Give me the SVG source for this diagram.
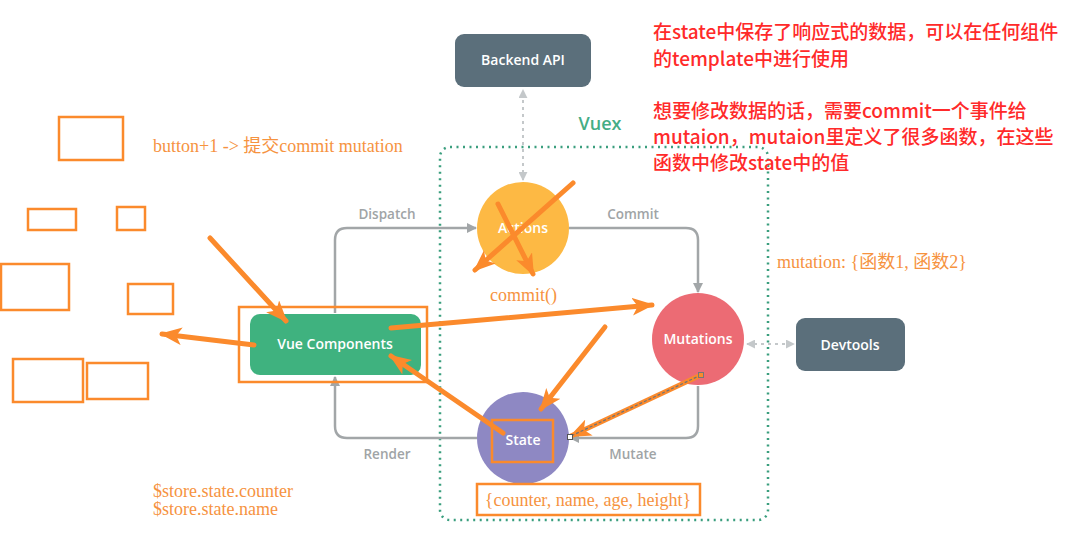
<svg xmlns="http://www.w3.org/2000/svg" width="1069" height="535" viewBox="0 0 1069 535">
<style>
.node-t{font-family:"Open Sans","Liberation Sans",sans-serif;font-weight:600;font-size:14px;fill:#fff;text-anchor:middle}
.lbl{font-family:"Open Sans","Liberation Sans",sans-serif;font-weight:600;font-size:13.5px;fill:#a0a4a6;text-anchor:middle}
.gline{fill:none;stroke:#a2a6a8;stroke-width:2.5}
.gdot{fill:none;stroke:#c4c8ca;stroke-width:2;stroke-dasharray:3 4}
.obox{fill:none;stroke:#fb8a2c;stroke-width:2.5}
.oarr{stroke:#fb8a2c;stroke-width:5;stroke-linecap:round;fill:none}
.otxt{font-family:"Liberation Serif","Noto Sans CJK SC",serif;font-size:18px;fill:#f6933f}
.red{font-family:"Noto Sans CJK SC","Liberation Sans",sans-serif;font-size:19px;font-weight:500;fill:#ff2a2a}
</style>
<defs>
<marker id="ga" viewBox="0 0 10 10" refX="9" refY="5" markerWidth="10" markerHeight="10" markerUnits="userSpaceOnUse" orient="auto"><path d="M0,0 L10,5 L0,10 z" fill="#a2a6a8"/></marker>
<marker id="gd" viewBox="0 0 10 10" refX="9" refY="5" markerWidth="9" markerHeight="9" markerUnits="userSpaceOnUse" orient="auto-start-reverse"><path d="M0,0 L10,5 L0,10 z" fill="#c4c8ca"/></marker>
<marker id="oa" viewBox="0 0 20 16" refX="18" refY="8" markerWidth="22" markerHeight="18" markerUnits="userSpaceOnUse" orient="auto"><path d="M0,0 L20,8 L0,16 L5,8 z" fill="#fb8a2c"/></marker>
<marker id="oa2" viewBox="0 0 20 16" refX="18" refY="8" markerWidth="22" markerHeight="18" markerUnits="userSpaceOnUse" orient="auto"><path d="M0,0 L20,8 L0,16 L5,8 z" fill="#fb8a2c"/></marker>
</defs>
<rect width="1069" height="535" fill="#fff"/>

<g id="vuex">
<rect x="440" y="147" width="328" height="373" rx="10" fill="none" stroke="#3a9e7e" stroke-width="2.5" stroke-dasharray="2 4.5"/>
<text x="600" y="130" font-family="'Open Sans','Liberation Sans',sans-serif" font-weight="600" font-size="18" fill="#45ad85" text-anchor="middle">Vuex</text>
</g>

<g id="connectors">
<path class="gdot" d="M523,180 L523,90" marker-start="url(#gd)" marker-end="url(#gd)"/>
<path class="gdot" d="M747,344 L794,344" marker-start="url(#gd)" marker-end="url(#gd)"/>
<path class="gline" d="M335,313 L335,240 Q335,228 347,228 L476,228" marker-end="url(#ga)"/>
<path class="gline" d="M569,228 L686,228 Q698,228 698,240 L698,292" marker-end="url(#ga)"/>
<path class="gline" d="M698,386 L698,426 Q698,438 686,438 L570,438" marker-end="url(#ga)"/>
<path class="gline" d="M477,438 L347,438 Q335,438 335,426 L335,377" marker-end="url(#ga)"/>
<text class="lbl" x="387" y="219">Dispatch</text>
<text class="lbl" x="633" y="219">Commit</text>
<text class="lbl" x="633" y="459">Mutate</text>
<text class="lbl" x="387" y="459">Render</text>
</g>

<g id="backend-api">
<rect x="455" y="34" width="136" height="53" rx="9" fill="#5b6f7b"/>
<text class="node-t" x="523" y="65">Backend API</text>
</g>
<g id="actions">
<circle cx="523" cy="228" r="46" fill="#fdb944"/>
<text class="node-t" x="523" y="233">Actions</text>
</g>
<g id="mutations">
<circle cx="698" cy="339" r="46" fill="#ec6b74"/>
<text class="node-t" x="698" y="344">Mutations</text>
</g>
<g id="state">
<circle cx="523" cy="438" r="46" fill="#8e88c3"/>
<text class="node-t" x="523" y="445">State</text>
</g>
<g id="vue-components">
<rect x="250" y="314" width="171" height="61" rx="10" fill="#3fb27f"/>
<text class="node-t" x="335" y="349">Vue Components</text>
</g>
<g id="devtools">
<rect x="796" y="318" width="109" height="53" rx="9" fill="#5b6f7b"/>
<text class="node-t" x="850" y="350">Devtools</text>
</g>

<g id="annotations">
<rect class="obox" x="239" y="307" width="188" height="75"/>
<rect class="obox" x="492" y="420" width="61" height="42"/>
<rect class="obox" x="477" y="484" width="223" height="31"/>
<rect class="obox" x="59" y="117" width="64" height="43"/>
<rect class="obox" x="28" y="209" width="48" height="21"/>
<rect class="obox" x="117" y="207" width="28" height="23"/>
<rect class="obox" x="1" y="264" width="68" height="46"/>
<rect class="obox" x="128" y="284" width="45" height="30"/>
<rect class="obox" x="13" y="359" width="70" height="43"/>
<rect class="obox" x="87" y="363" width="61" height="36"/>

<line class="oarr" x1="210" y1="238" x2="286" y2="321" marker-end="url(#oa)"/>
<line class="oarr" x1="254" y1="345" x2="162" y2="334" marker-end="url(#oa)"/>
<line class="oarr" x1="391" y1="328" x2="652" y2="305" marker-end="url(#oa)"/>
<line class="oarr" x1="503" y1="433" x2="391" y2="356" marker-end="url(#oa)"/>
<line class="oarr" x1="605" y1="327" x2="541" y2="409" marker-end="url(#oa)"/>
<line class="oarr" x1="573" y1="183" x2="475" y2="270" marker-end="url(#oa)"/>
<line class="oarr" x1="498" y1="204" x2="533" y2="274" marker-end="url(#oa)"/>
<line stroke="#fb8a2c" stroke-width="5" stroke-linecap="round" x1="701" y1="375" x2="571" y2="436" marker-end="url(#oa2)"/>
<line stroke="#6f7478" stroke-width="1.2" stroke-dasharray="3 2" x1="701" y1="375" x2="571" y2="436"/>
<rect x="698.5" y="372.5" width="5" height="5" fill="#fb8a2c" stroke="#777" stroke-width="1"/>
<rect x="567.5" y="434.5" width="5" height="5" fill="#fff" stroke="#555" stroke-width="1"/>

<text class="otxt" x="153" y="152">button+1 -&gt; 提交commit mutation</text>
<text class="otxt" x="490" y="301">commit()</text>
<text class="otxt" x="777" y="268">mutation: {函数1, 函数2}</text>
<text class="otxt" x="153" y="497">$store.state.counter</text>
<text class="otxt" x="153" y="515">$store.state.name</text>
<text class="otxt" x="588" y="506" text-anchor="middle" font-size="19">{counter, name, age, height}</text>
</g>

<g id="notes">
<text class="red" x="653" y="39">在state中保存了响应式的数据，可以在任何组件</text>
<text class="red" x="653" y="66">的template中进行使用</text>
<text class="red" x="653" y="118">想要修改数据的话，需要commit一个事件给</text>
<text class="red" x="653" y="144">mutaion，mutaion里定义了很多函数，在这些</text>
<text class="red" x="653" y="170">函数中修改state中的值</text>
</g>
</svg>
